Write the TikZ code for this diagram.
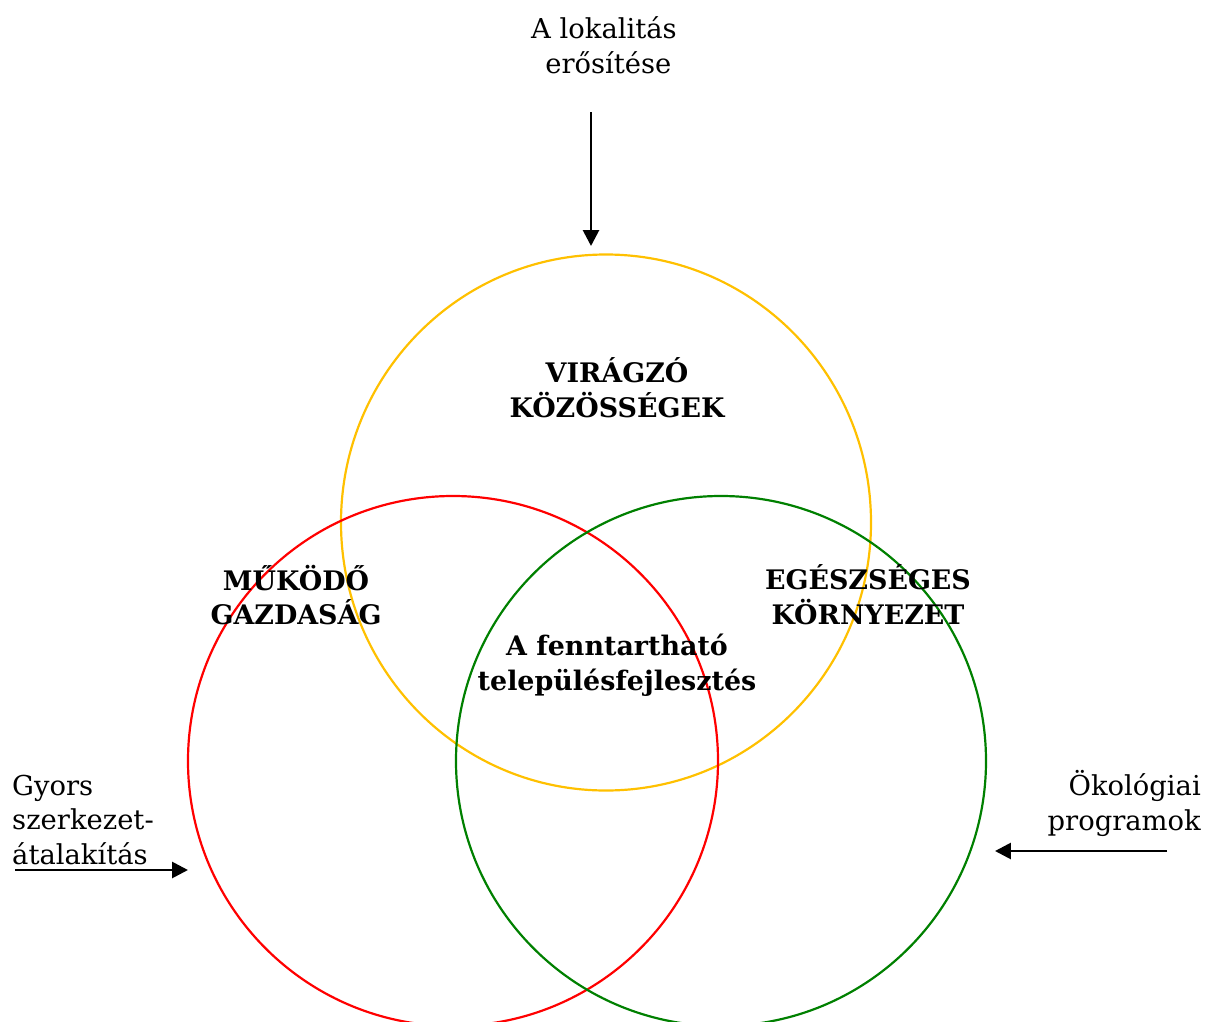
\documentclass[tikz,border=0pt]{standalone}
\usepackage{fontspec}
\setmainfont{DejaVu Serif}
\usetikzlibrary{arrows.meta}
\definecolor{cgold}{HTML}{FFC000}
\definecolor{cred}{HTML}{FF0000}
\definecolor{cgreen}{HTML}{008000}
\tikzset{
  lbl/.style={inner sep=0pt, align=center, font=\fontsize{27.5}{35}\selectfont},
  blbl/.style={inner sep=0pt, align=center, font=\fontsize{27}{35}\selectfont\bfseries},
  ring/.style={line width=2.2pt},
  arr/.style={line width=2.8pt, -{Triangle[length=16pt,width=16pt]}}
}
\begin{document}
\begin{tikzpicture}[x=1bp,y=-1bp]
\useasboundingbox (0,0) rectangle (1207,1022);
\begin{scope}
\clip (0,0) rectangle (1207,1022);
\draw[ring, cgold] (606,522.5) ellipse[x radius=265, y radius=268];
\draw[ring, cred] (453,761) circle[radius=265];
\draw[ring, cgreen] (721,761) circle[radius=265];
\end{scope}
\node[lbl] (top) at (604,45) {A lokalitás\\ \ erősítése};
\node[blbl] (vir) at (617,388) {VIRÁGZÓ\\KÖZÖSSÉGEK};
\node[blbl] (muk) at (296,595) {MŰKÖDŐ\\GAZDASÁG};
\node[blbl] (egs) at (868,595) {EGÉSZSÉGES\\KÖRNYEZET};
\node[blbl] (fen) at (617,665) {A fenntartható\\településfejlesztés};
\node[lbl, align=left, anchor=west] (gy) at (12,820) {Gyors\\szerkezet-\\átalakítás};
\node[lbl, align=right, anchor=east] (ok) at (1201,803) {Ökológiai\\programok};
\coordinate (a1s) at (591,112);
\coordinate (a1e) at (591,246);
\coordinate (a2s) at (15,870);
\coordinate (a2e) at (188,870);
\coordinate (a3s) at (1167,851);
\coordinate (a3e) at (995,851);
\draw[arr] (a1s) -- (a1e);
\draw[arr] (a2s) -- (a2e);
\draw[arr] (a3s) -- (a3e);
\end{tikzpicture}
\end{document}
